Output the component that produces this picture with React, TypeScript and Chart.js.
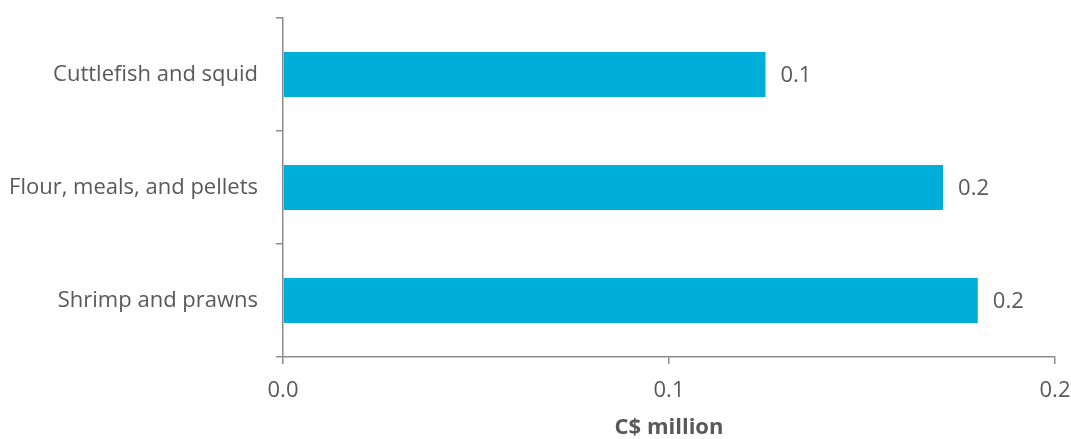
import React, { useEffect, useRef } from "react";
import { Chart, registerables } from "chart.js";

Chart.register(...registerables);

const categories = ["Cuttlefish and squid", "Flour, meals, and pellets", "Shrimp and prawns"];
const values = [0.125, 0.171, 0.18];
const xTicks = [0, 0.1, 0.2];
const xTitle = "C$ million";

const FONT = "'Open Sans', sans-serif";
const SIZE = 22;
const TEXT = "#595959";
const AXIS = "#8c8c8c";

const labelPlugin = {
  id: "barLabels",
  afterDatasetsDraw(chart: any) {
    const ctx = chart.ctx;
    const meta = chart.getDatasetMeta(0);
    ctx.save();
    ctx.font = `${SIZE}px ${FONT}`;
    ctx.fillStyle = TEXT;
    ctx.textAlign = "left";
    ctx.textBaseline = "middle";
    meta.data.forEach((bar: any, i: number) => {
      ctx.fillText(values[i].toFixed(1), bar.x + 15, bar.y + 1);
    });
    ctx.restore();
  },
};

export default function App() {
  const ref = useRef<HTMLCanvasElement>(null);
  useEffect(() => {
    if (!ref.current) return;
    const chart = new Chart(ref.current, {
      type: "bar",
      data: {
        labels: categories,
        datasets: [
          {
            data: values,
            backgroundColor: "#00afd9",
            barPercentage: 0.4,
            categoryPercentage: 1,
          },
        ],
      },
      plugins: [labelPlugin],
      options: {
        indexAxis: "y",
        animation: false,
        responsive: false,
        layout: { padding: { top: 18, right: 16, left: 0, bottom: 0 } },
        plugins: { legend: { display: false }, tooltip: { enabled: false } },
        scales: {
          x: {
            min: 0,
            max: 0.2,
            afterBuildTicks: (s: any) => {
              s.ticks = xTicks.map((v) => ({ value: v }));
            },
            ticks: {
              callback: (v: any) => Number(v).toFixed(1),
              color: TEXT,
              font: { family: FONT, size: SIZE },
              padding: 14,
            },
            grid: { drawOnChartArea: false, tickLength: 7, color: AXIS, lineWidth: 1.5 },
            border: { color: AXIS, width: 1.5 },
            title: {
              display: true,
              text: xTitle,
              color: TEXT,
              font: { family: FONT, size: SIZE, weight: "bold", lineHeight: 1 },
              padding: 0,
            },
            afterFit: (s: any) => {
              s.height = 82;
              s.paddingLeft = 0;
              s.paddingRight = 0;
            },
          },
          y: {
            ticks: {
              color: TEXT,
              font: { family: FONT, size: SIZE },
              padding: 18,
            },
            grid: { drawOnChartArea: false, tickLength: 7, color: AXIS, lineWidth: 1.5, offset: true },
            border: { color: AXIS, width: 1.5 },
            afterFit: (s: any) => {
              s.width = 283;
              s.paddingTop = 0;
              s.paddingBottom = 0;
            },
          },
        },
      },
    });
    return () => chart.destroy();
  }, []);
  return (
    <div style={{ position: "fixed", left: 0, top: 0, width: 1071, height: 439, background: "#fff" }}>
      <canvas ref={ref} width={1071} height={439} />
    </div>
  );
}
